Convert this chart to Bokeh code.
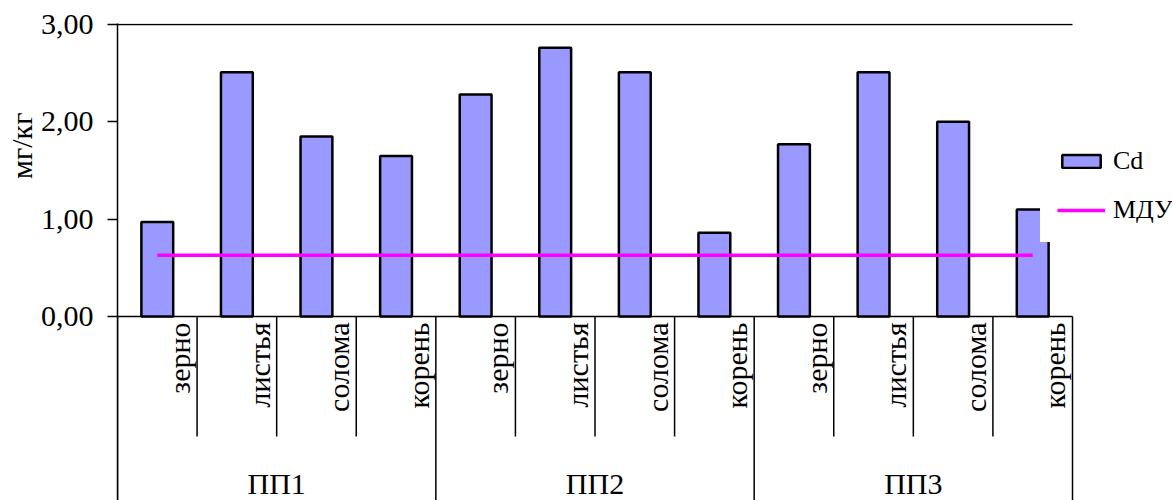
import math

from bokeh.core.properties import value
from bokeh.embed import file_html
from bokeh.models import ColumnDataSource, FixedTicker, Legend, LegendItem, Range1d, Title
from bokeh.plotting import figure
from bokeh.resources import INLINE

# --- data -------------------------------------------------------------------
groups = ["ПП1", "ПП2", "ПП3"]
parts = ["зерно", "листья", "солома", "корень"]
cd = [0.97, 2.51, 1.85, 1.65, 2.28, 2.76, 2.51, 0.86, 1.77, 2.51, 2.00, 1.10]
mdu = [0.63, 0.63, 0.63, 0.63, 0.63, 0.63, 0.63, 0.63, 0.63, 0.63, 0.63, 0.63]
y_ticks = [0, 1, 2, 3]
y_tick_labels = ["0,00", "1,00", "2,00", "3,00"]

FONT = "Liberation Serif"
BAR_FILL = "#9999FF"
MDU_COLOR = "#FF00FF"

n_parts = len(parts)
categories = [(g, p) for g in groups for p in parts]
n_cat = len(categories)
centers = [i + 0.5 for i in range(n_cat)]

# --- figure geometry ----------------------------------------------------------
W, H = 1172, 500
left, top = 117, 23
px_x = 955 / n_cat          # pixels per category
px_y = 292 / 3.0            # pixels per unit of mg/kg
frame_w = W - left
frame_h = H - top
y_end = 3.0 + 1 / px_y
y_start = y_end - frame_h / px_y
x_end = frame_w / px_x

p = figure(
    width=W, height=H,
    x_range=Range1d(0, x_end), y_range=Range1d(y_start, y_end),
    x_axis_location=None,
    output_backend="svg", toolbar_location=None,
    min_border_left=left, min_border_top=top,
    min_border_right=0, min_border_bottom=0,
)
p.outline_line_color = None
p.grid.visible = False
p.background_fill_color = "white"
p.border_fill_color = "white"

# --- y axis -------------------------------------------------------------------
ax = p.yaxis[0]
ax.ticker = FixedTicker(ticks=y_ticks)
ax.major_label_overrides = {t: s for t, s in zip(y_ticks, y_tick_labels)}
ax.major_label_text_font = FONT
ax.major_label_text_font_size = "30px"
ax.major_label_text_color = "black"
ax.major_label_standoff = 14
ax.axis_line_color = "black"
ax.axis_line_width = 1.5
ax.major_tick_line_color = "black"
ax.major_tick_line_width = 1.5
ax.major_tick_out = 10
ax.major_tick_in = 0
ax.minor_tick_line_color = None

# top border line at the axis maximum and the category baseline
p.segment(x0=[0, 0], y0=[3, 0], x1=[n_cat, n_cat], y1=[3, 0],
          line_color="black", line_width=1.5)

# --- bars and МДУ line ----------------------------------------------------------
src = ColumnDataSource(dict(x=centers, cd=cd, mdu=mdu))
bars = p.vbar(x="x", top="cd", bottom=0, width=0.4, source=src,
              fill_color=BAR_FILL, line_color="black", line_width=2.5)
mdu_line = p.line(x="x", y="mdu", source=src, line_color=MDU_COLOR, line_width=3.5)

# --- two-level category axis drawn below the baseline ------------------------------
short_drop = -120 / px_y
long_drop = y_start
sep_x, sep_y = [], []
for i in range(n_cat + 1):
    sep_x.append(i)
    sep_y.append(long_drop if i % n_parts == 0 else short_drop)
p.segment(x0=sep_x, y0=[0] * len(sep_x), x1=sep_x, y1=sep_y,
          line_color="black", line_width=1.5)

p.text(x=[i + 0.78 for i in range(n_cat)], y=[-6 / px_y] * n_cat,
       text=[c[1] for c in categories], angle=math.pi / 2,
       text_align="right", text_baseline="middle",
       text_font=value(FONT), text_font_size="30px", text_color="black")

p.text(x=[g * n_parts + n_parts / 2 for g in range(len(groups))],
       y=[-167 / px_y] * len(groups), text=groups,
       text_align="center", text_baseline="middle",
       text_font=value(FONT), text_font_size="30px", text_color="black")

# --- y axis title ---------------------------------------------------------------
p.add_layout(Title(text="мг/кг", align="right", offset=89, standoff=0,
                   text_font=FONT, text_font_size="30px",
                   text_font_style="normal", text_color="black"), "left")

# --- legend -----------------------------------------------------------------------
legend = Legend(
    items=[LegendItem(label="Cd", renderers=[bars]),
           LegendItem(label="МДУ", renderers=[mdu_line])],
    location=(923, 258),
    orientation="vertical",
    padding=16, spacing=19, margin=0,
    glyph_width=48, glyph_height=16, label_height=29,
    label_standoff=8,
    label_text_font=FONT, label_text_font_size="26px", label_text_color="black",
    background_fill_color="white", background_fill_alpha=1.0,
    border_line_color="white", border_line_width=1,
)
p.add_layout(legend)

open("out.html", "w").write(file_html(p, INLINE))
